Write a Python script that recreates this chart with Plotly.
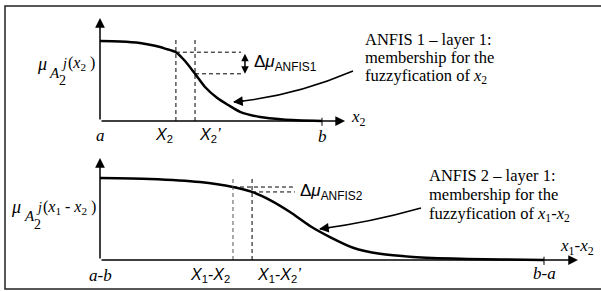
import numpy as np
import plotly.graph_objects as go

# ---------------- data ----------------
# top panel: membership of x2 on [a, b] = [0, 10]
top_x = [0, 0.9, 1.8, 2.48, 2.93, 3.42, 3.83, 4.28, 4.73, 5.27, 5.77, 6.31, 7.21, 8.24, 10]
top_mu = [1.0, 0.994, 0.975, 0.94, 0.905, 0.86, 0.75, 0.59, 0.425, 0.29, 0.2, 0.115, 0.05, 0.02, 0.0]
top_marks = [3.42, 4.28]          # X2, X2'
top_ends = [0, 10]                # a, b

# bottom panel: membership of x1-x2 on [a-b, b-a] = [-10, 10]
bot_x = [-10, -7.75, -5.5, -4.01, -3.15, -2.34, -1.44, -0.54, 0.36, 1.40, 2.61, 4.10, 6.22, 10]
bot_mu = [1.0, 0.988, 0.95, 0.89, 0.83, 0.73, 0.585, 0.415, 0.28, 0.15, 0.075, 0.037, 0.015, 0.0]
bot_marks = [-4.01, -3.15]        # X1-X2, X1-X2'
bot_ends = [-10, 10]              # a-b, b-a

W, H = 601, 291
SERIF = "Liberation Serif, Times New Roman, serif"
SANS = "Liberation Sans, Arial, sans-serif"


def px(x):
    return x / W


def py(y):
    return 1 - y / H


fig = go.Figure()

line_kw = dict(mode="lines", hoverinfo="skip", showlegend=False)

# curves
fig.add_trace(go.Scatter(x=top_x, y=top_mu, line=dict(color="black", width=2.5, shape="spline", smoothing=0.7),
                         xaxis="x", yaxis="y", **line_kw))
fig.add_trace(go.Scatter(x=bot_x, y=bot_mu, line=dict(color="black", width=2.5, shape="spline", smoothing=0.7),
                         xaxis="x2", yaxis="y2", **line_kw))

# dashed helper lines (top)
tm = [float(np.interp(m, top_x, top_mu)) for m in top_marks]
for m in top_marks:
    fig.add_trace(go.Scatter(x=[m, m], y=[0, 1.0125], line=dict(color="black", width=1, dash="4px,3px"),
                             xaxis="x", yaxis="y", **line_kw))
for m, v in zip(top_marks, tm):
    fig.add_trace(go.Scatter(x=[m, 6.35], y=[v, v], line=dict(color="black", width=1, dash="4px,3px"),
                             xaxis="x", yaxis="y", **line_kw))

# dashed helper lines (bottom)
bm = [float(np.interp(m, bot_x, bot_mu)) for m in bot_marks]
for m, c in zip(bot_marks, ["#555555", "black"]):
    fig.add_trace(go.Scatter(x=[m, m], y=[0, 1.0], line=dict(color=c, width=1, dash="4px,3px"),
                             xaxis="x2", yaxis="y2", **line_kw))
for m, v in zip(bot_marks, bm):
    fig.add_trace(go.Scatter(x=[m, -1.22], y=[v, v], line=dict(color="black", width=1, dash="4px,3px"),
                             xaxis="x2", yaxis="y2", **line_kw))

# tick marks at b and b-a
fig.add_trace(go.Scatter(x=[top_ends[1]] * 2, y=[-0.06, 0.04], line=dict(color="black", width=1),
                         xaxis="x", yaxis="y", **line_kw))
fig.add_trace(go.Scatter(x=[bot_ends[1]] * 2, y=[-0.06, 0.04], line=dict(color="black", width=1),
                         xaxis="x2", yaxis="y2", **line_kw))

ann = []


def arrow(x, y, ax, ay, xr, yr, head=2, side="end", size=1.3):
    ann.append(dict(x=x, y=y, ax=ax, ay=ay, xref=xr, yref=yr, axref=xr, ayref=yr, text="",
                    showarrow=True, arrowhead=head, arrowsize=size, arrowwidth=1.5,
                    arrowcolor="black", standoff=0, startstandoff=0, arrowside=side,
                    startarrowhead=head, startarrowsize=size))


# axes with arrows
arrow(top_ends[0], 1.2875, top_ends[0], 0, "x", "y")
arrow(11.04, 0, top_ends[0], 0, "x", "y")
arrow(bot_ends[0], 1.244, bot_ends[0], 0, "x2", "y2")
arrow(11.53, 0, bot_ends[0], 0, "x2", "y2")

# delta-mu double arrow (top)
arrow(6.53, tm[1], 6.53, tm[0], "x", "y", head=2, side="end+start", size=1.0)


def text(x, y, t, xr="paper", yr="paper", size=15, family=SERIF, xa="center", ya="middle"):
    ann.append(dict(x=x, y=y, xref=xr, yref=yr, text=t, showarrow=False,
                    font=dict(family=family, size=size, color="black"), xanchor=xa, yanchor=ya))


# top labels
text(top_ends[0], -0.175, "<i>a</i>", "x", "y", size=17)
text(top_ends[1], -0.19, "<i>b</i>", "x", "y", size=17)
text(top_marks[0] - 0.05, -0.175, "<i>X</i><sub>2</sub>", "x", "y", size=16, family=SANS, xa="right")
text(top_marks[1] + 0.08, -0.175, "<i>X</i><sub>2</sub><i>’</i>", "x", "y", size=16, family=SANS, xa="left")
text(px(349), py(118), "<i>x</i><sub>2</sub>", size=17, xa="left")
text(px(252), py(63), "Δ<i>μ</i><sub>ANFIS1</sub>", size=17, family=SANS, xa="left")
for i, t in enumerate(["ANFIS 1 – layer 1:", "membership for the", "fuzzyfication of <i>x</i><sub>2</sub>"]):
    text(px(363), py(40 + 18 * i), t, size=16.5, xa="left")

# bottom labels
text(bot_ends[0], -0.183, "<i>a-b</i>", "x2", "y2", size=17)
text(bot_ends[1], -0.159, "<i>b-a</i>", "x2", "y2", size=17)
text(bot_marks[0] - 0.05, -0.183, "<i>X</i><sub>1</sub>-<i>X</i><sub>2</sub>", "x2", "y2", size=16, family=SANS, xa="right")
text(bot_marks[1] + 0.15, -0.183, "<i>X</i><sub>1</sub>-<i>X</i><sub>2</sub><i>’</i>", "x2", "y2", size=16, family=SANS, xa="left")
text(px(577), py(247), "<i>x</i><sub>1</sub>-<i>x</i><sub>2</sub>", size=17)
text(px(298), py(192), "Δ<i>μ</i><sub>ANFIS2</sub>", size=17, family=SANS, xa="left")
for i, t in enumerate(["ANFIS 2 – layer 1:", "membership for the", "fuzzyfication of <i>x</i><sub>1</sub>-<i>x</i><sub>2</sub>"]):
    text(px(427), py(175 + 19.5 * i), t, size=16.5, xa="left")

# y-axis labels (top)
text(px(42), py(64), "<i>μ</i>", size=18)
text(px(54), py(73), "<i>A</i>", size=15)
text(px(63.5), py(63), "<i>j</i>", size=14)
text(px(62), py(80), "2", size=14)
text(px(97), py(63), "(<i>x</i><sub>2</sub> )", size=16, xa="right")

# y-axis labels (bottom)
text(px(16), py(207), "<i>μ</i>", size=18)
text(px(29), py(216), "<i>A</i>", size=15)
text(px(39), py(207), "<i>j</i>", size=14)
text(px(37), py(224), "2", size=14)
text(px(98), py(207), "(<i>x</i><sub>1</sub> - <i>x</i><sub>2</sub> )", size=16, xa="right")

# curved pointer arrows
shapes = [
    dict(type="path", xref="paper", yref="paper",
         path=f"M {px(353)},{py(71)} Q {px(293)},{py(96.5)} {px(234)},{py(101.9)}",
         line=dict(color="black", width=1.5)),
    dict(type="path", xref="paper", yref="paper",
         path=f"M {px(421)},{py(208)} Q {px(369.5)},{py(222.5)} {px(320)},{py(228.9)}",
         line=dict(color="black", width=1.5)),
    # frame
    dict(type="rect", xref="paper", yref="paper", x0=px(5), x1=px(606), y0=py(289), y1=py(6),
         line=dict(color="#222222", width=1.5)),
]
ann.append(dict(x=px(233), y=py(102), xref="paper", yref="paper", ax=12, ay=-1.1, text="",
                showarrow=True, arrowhead=2, arrowsize=1.3, arrowwidth=1.5, arrowcolor="black", standoff=0))
ann.append(dict(x=px(319), y=py(229), xref="paper", yref="paper", ax=11.9, ay=-1.5, text="",
                showarrow=True, arrowhead=2, arrowsize=1.3, arrowwidth=1.5, arrowcolor="black", standoff=0))

hidden = dict(visible=False, fixedrange=True, domain=[0, 1])
fig.update_layout(
    width=W, height=H, margin=dict(l=0, r=0, t=0, b=0),
    paper_bgcolor="white", plot_bgcolor="rgba(0,0,0,0)", showlegend=False,
    xaxis=dict(range=[-100 / 22.2, 501 / 22.2], anchor="y", **hidden),
    yaxis=dict(range=[-170 / 80, 121 / 80], anchor="x", **hidden),
    xaxis2=dict(range=[-322 / 22.2, 279 / 22.2], anchor="y2", **hidden),
    yaxis2=dict(range=[-31 / 82, 260 / 82], anchor="x2", **hidden),
    annotations=ann, shapes=shapes,
)

fig.write_html("out.html", config={"displayModeBar": False},
               post_script="document.body.style.margin='0';document.body.style.overflow='hidden';")
